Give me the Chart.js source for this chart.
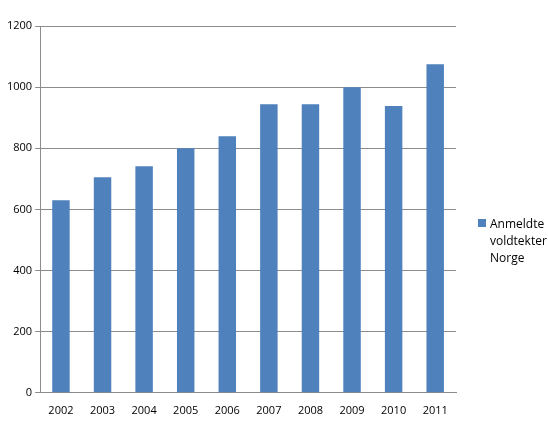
<!DOCTYPE html>
<html>
<head>
<meta charset="utf-8">
<script src="https://cdn.jsdelivr.net/npm/chart.js@4"></script>
<style>
  body { margin: 0; background: #fff; }
  #wrap { position: relative; width: 548px; height: 434px; }
  #legend { position: absolute; left: 478px; top: 215px; font: 12px "Open Sans", sans-serif; color: #000; line-height: 17px; }
  #legend .box { position: absolute; left: 0; top: 4px; width: 8px; height: 8px; background: #4F81BD; }
  #legend .txt { margin-left: 12px; }
</style>
</head>
<body>
<div id="wrap">
  <canvas id="chart" width="548" height="434"></canvas>
  <div id="legend"><span class="box"></span><div class="txt">Anmeldte<br>voldtekter<br>Norge</div></div>
</div>
<script>
// Data
const years = ["2002", "2003", "2004", "2005", "2006", "2007", "2008", "2009", "2010", "2011"];
const reported = [630, 705, 741, 800, 839, 944, 944, 1000, 938, 1075];
const seriesLabel = "Anmeldte voldtekter Norge";

const ctx = document.getElementById("chart").getContext("2d");
new Chart(ctx, {
  type: "bar",
  data: {
    labels: years,
    datasets: [
      {
        label: seriesLabel,
        data: reported,
        backgroundColor: "#4F81BD",
        categoryPercentage: 1,
        barPercentage: 0.42,
      },
    ],
  },
  options: {
    responsive: false,
    animation: false,
    layout: { padding: { top: 26, right: 92, bottom: 14, left: 4 } },
    scales: {
      y: {
        min: 0,
        max: 1200,
        ticks: {
          stepSize: 200,
          color: "#000",
          font: { family: "Open Sans", size: 11 },
          callback: (v) => String(v),
        },
        grid: { color: "#8c8c8c", tickLength: 5 },
        border: { color: "#8c8c8c" },
      },
      x: {
        ticks: { color: "#000", font: { family: "Open Sans", size: 11 } },
        grid: { display: false },
        border: { color: "#8c8c8c" },
      },
    },
    plugins: {
      legend: { display: false },
      tooltip: { enabled: false },
    },
  },
});
</script>
</body>
</html>
